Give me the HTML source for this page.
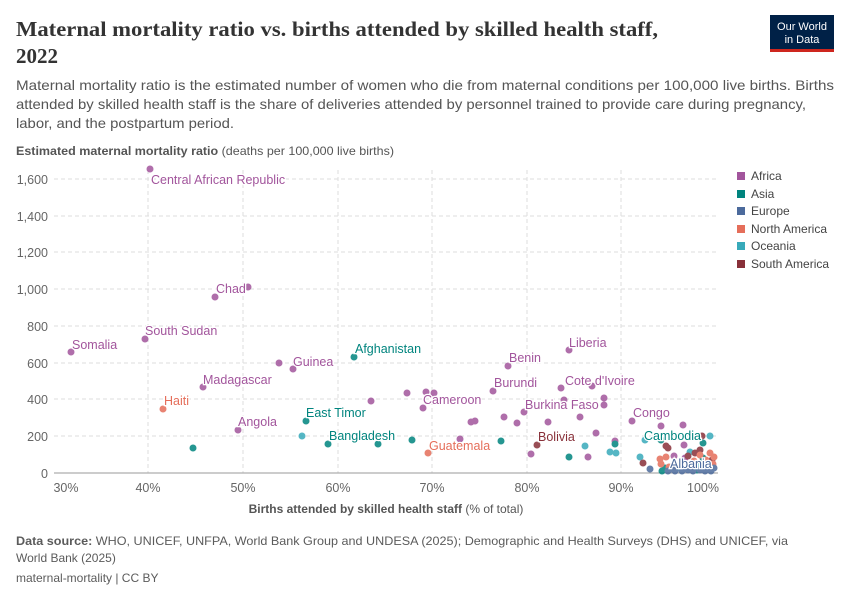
<!DOCTYPE html>
<html><head><meta charset="utf-8"><style>
body{margin:0;background:#fff;}
svg{display:block;font-family:"Liberation Sans",sans-serif;}
</style></head><body>
<svg width="850" height="600" viewBox="0 0 850 600" xmlns="http://www.w3.org/2000/svg">
<text x="16" y="36" font-family="Liberation Serif,serif" font-weight="bold" font-size="21" fill="#333" textLength="642" lengthAdjust="spacingAndGlyphs">Maternal mortality ratio vs. births attended by skilled health staff,</text>
<text x="16" y="63" font-family="Liberation Serif,serif" font-weight="bold" font-size="21" fill="#333">2022</text>
<rect x="770" y="15" width="64" height="36" fill="#002147"/>
<rect x="770" y="49" width="64" height="3" fill="#ce261e"/>
<text x="802" y="30" font-size="11" fill="#fff" text-anchor="middle">Our World</text>
<text x="802" y="43" font-size="11" fill="#fff" text-anchor="middle">in Data</text>
<g font-size="14" fill="#555">
<text x="16" y="90" textLength="818" lengthAdjust="spacingAndGlyphs">Maternal mortality ratio is the estimated number of women who die from maternal conditions per 100,000 live births. Births</text>
<text x="16" y="109" textLength="790" lengthAdjust="spacingAndGlyphs">attended by skilled health staff is the share of deliveries attended by personnel trained to provide care during pregnancy,</text>
<text x="16" y="128" textLength="218" lengthAdjust="spacingAndGlyphs">labor, and the postpartum period.</text>
</g>
<text x="16" y="155" font-size="12" fill="#555" textLength="378" lengthAdjust="spacingAndGlyphs"><tspan font-weight="bold">Estimated maternal mortality ratio</tspan> (deaths per 100,000 live births)</text>
<g stroke="#ddd" stroke-dasharray="4,3" stroke-width="1">
<line x1="54" x2="718" y1="179" y2="179"/><line x1="54" x2="718" y1="216" y2="216"/><line x1="54" x2="718" y1="252" y2="252"/><line x1="54" x2="718" y1="289" y2="289"/><line x1="54" x2="718" y1="326" y2="326"/><line x1="54" x2="718" y1="363" y2="363"/><line x1="54" x2="718" y1="399" y2="399"/><line x1="54" x2="718" y1="436" y2="436"/>
<line x1="148" x2="148" y1="170" y2="473"/><line x1="243" x2="243" y1="170" y2="473"/><line x1="338" x2="338" y1="170" y2="473"/><line x1="432" x2="432" y1="170" y2="473"/><line x1="527" x2="527" y1="170" y2="473"/><line x1="621" x2="621" y1="170" y2="473"/>
</g>
<line x1="54" x2="718" y1="473" y2="473" stroke="#999"/>
<g font-size="12.5" fill="#666" text-anchor="end">
<text x="48" y="184">1,600</text><text x="48" y="221">1,400</text><text x="48" y="257">1,200</text><text x="48" y="294">1,000</text><text x="48" y="331">800</text><text x="48" y="368">600</text><text x="48" y="404">400</text><text x="48" y="441">200</text><text x="48" y="478">0</text>
</g>
<g font-size="12.5" fill="#666" text-anchor="middle">
<text x="66" y="492">30%</text><text x="148" y="492">40%</text><text x="243" y="492">50%</text><text x="338" y="492">60%</text><text x="432" y="492">70%</text><text x="527" y="492">80%</text><text x="621" y="492">90%</text><text x="703" y="492">100%</text>
</g>
<text x="386" y="513" font-size="12" fill="#555" text-anchor="middle"><tspan font-weight="bold">Births attended by skilled health staff</tspan> (% of total)</text>
<g opacity="0.85">
<g fill="#a2559c">
<circle cx="150" cy="169" r="3.5"/><circle cx="215" cy="297" r="3.5"/><circle cx="248" cy="287" r="3.5"/><circle cx="71" cy="352" r="3.5"/><circle cx="145" cy="339" r="3.5"/><circle cx="203" cy="387" r="3.5"/><circle cx="238" cy="430" r="3.5"/><circle cx="293" cy="369" r="3.5"/><circle cx="279" cy="363" r="3.5"/><circle cx="423" cy="408" r="3.5"/><circle cx="508" cy="366" r="3.5"/><circle cx="493" cy="391" r="3.5"/><circle cx="569" cy="350" r="3.5"/><circle cx="592" cy="386" r="3.5"/><circle cx="524" cy="412" r="3.5"/><circle cx="632" cy="421" r="3.5"/><circle cx="407" cy="393" r="3.5"/><circle cx="371" cy="401" r="3.5"/><circle cx="426" cy="392" r="3.5"/><circle cx="434" cy="393" r="3.5"/><circle cx="471" cy="422" r="3.5"/><circle cx="475" cy="421" r="3.5"/><circle cx="460" cy="439" r="3.5"/><circle cx="504" cy="417" r="3.5"/><circle cx="517" cy="423" r="3.5"/><circle cx="548" cy="422" r="3.5"/><circle cx="531" cy="454" r="3.5"/><circle cx="564" cy="400" r="3.5"/><circle cx="580" cy="417" r="3.5"/><circle cx="604" cy="398" r="3.5"/><circle cx="604" cy="405" r="3.5"/><circle cx="596" cy="433" r="3.5"/><circle cx="588" cy="457" r="3.5"/><circle cx="615" cy="441" r="3.5"/><circle cx="661" cy="426" r="3.5"/><circle cx="683" cy="425" r="3.5"/><circle cx="684" cy="445" r="3.5"/><circle cx="561" cy="388" r="3.5"/><circle cx="685" cy="458" r="3.5"/><circle cx="674" cy="456" r="3.5"/>
</g>
<g fill="#00847e">
<circle cx="354" cy="357" r="3.5"/><circle cx="306" cy="421" r="3.5"/><circle cx="328" cy="444" r="3.5"/><circle cx="193" cy="448" r="3.5"/><circle cx="378" cy="444" r="3.5"/><circle cx="412" cy="440" r="3.5"/><circle cx="501" cy="441" r="3.5"/><circle cx="569" cy="457" r="3.5"/><circle cx="615" cy="444" r="3.5"/><circle cx="661" cy="440" r="3.5"/><circle cx="703" cy="443" r="3.5"/><circle cx="665" cy="468" r="3.5"/><circle cx="703" cy="458" r="3.5"/><circle cx="710" cy="470" r="3.5"/><circle cx="662" cy="471" r="3.5"/><circle cx="697" cy="470" r="3.5"/>
</g>
<g fill="#38aaba">
<circle cx="302" cy="436" r="3.5"/><circle cx="585" cy="446" r="3.5"/><circle cx="610" cy="452" r="3.5"/><circle cx="616" cy="453" r="3.5"/><circle cx="640" cy="457" r="3.5"/><circle cx="645" cy="440" r="3.5"/><circle cx="690" cy="452" r="3.5"/><circle cx="710" cy="436" r="3.5"/><circle cx="698" cy="465" r="3.5"/><circle cx="680" cy="468" r="3.5"/>
</g>
<g fill="#883039">
<circle cx="537" cy="445" r="3.5"/><circle cx="643" cy="463" r="3.5"/><circle cx="666" cy="446" r="3.5"/><circle cx="668" cy="448" r="3.5"/><circle cx="688" cy="456" r="3.5"/><circle cx="702" cy="436" r="3.5"/><circle cx="712" cy="460" r="3.5"/><circle cx="695" cy="453" r="3.5"/><circle cx="700" cy="450" r="3.5"/>
</g>
<g fill="#e56e5a">
<circle cx="163" cy="409" r="3.5"/><circle cx="428" cy="453" r="3.5"/><circle cx="660" cy="459" r="3.5"/><circle cx="661" cy="464" r="3.5"/><circle cx="666" cy="457" r="3.5"/><circle cx="669" cy="467" r="3.5"/><circle cx="700" cy="455" r="3.5"/><circle cx="706" cy="460" r="3.5"/><circle cx="710" cy="453" r="3.5"/><circle cx="713" cy="464" r="3.5"/><circle cx="708" cy="467" r="3.5"/><circle cx="694" cy="461" r="3.5"/><circle cx="704" cy="464" r="3.5"/><circle cx="714" cy="457" r="3.5"/>
</g>
<g fill="#4c6a9c">
<circle cx="650" cy="469" r="3.5"/><circle cx="668" cy="471" r="3.5"/><circle cx="675" cy="471" r="3.5"/><circle cx="682" cy="471" r="3.5"/><circle cx="688" cy="470" r="3.5"/><circle cx="693" cy="471" r="3.5"/><circle cx="700" cy="470" r="3.5"/><circle cx="705" cy="471" r="3.5"/><circle cx="711" cy="471" r="3.5"/><circle cx="714" cy="468" r="3.5"/><circle cx="690" cy="466" r="3.5"/><circle cx="672" cy="469" r="3.5"/><circle cx="708" cy="469" r="3.5"/>
</g>
</g>
<g font-size="12.5" stroke="#fff" stroke-width="2.5" paint-order="stroke">
<g fill="#a2559c">
<text x="151" y="184">Central African Republic</text><text x="216" y="293">Chad</text><text x="72" y="349">Somalia</text><text x="145" y="335">South Sudan</text><text x="203" y="384">Madagascar</text><text x="238" y="426">Angola</text><text x="293" y="366">Guinea</text><text x="423" y="404">Cameroon</text><text x="509" y="362">Benin</text><text x="494" y="387">Burundi</text><text x="569" y="347">Liberia</text><text x="565" y="385">Cote d'Ivoire</text><text x="525" y="409">Burkina Faso</text><text x="633" y="417">Congo</text>
</g>
<g fill="#00847e"><text x="355" y="353">Afghanistan</text><text x="306" y="417">East Timor</text><text x="329" y="440">Bangladesh</text><text x="644" y="440">Cambodia</text></g>
<text x="164" y="405" fill="#e56e5a">Haiti</text>
<text x="429" y="450" fill="#e56e5a">Guatemala</text>
<text x="538" y="441" fill="#883039">Bolivia</text>
<text x="670" y="468" fill="#4c6a9c">Albania</text>
</g>
<g font-size="12" fill="#444">
<rect x="737" y="172" width="8" height="8" fill="#a2559c"/><text x="751" y="180">Africa</text>
<rect x="737" y="190" width="8" height="8" fill="#00847e"/><text x="751" y="198">Asia</text>
<rect x="737" y="207" width="8" height="8" fill="#4c6a9c"/><text x="751" y="215">Europe</text>
<rect x="737" y="225" width="8" height="8" fill="#e56e5a"/><text x="751" y="233">North America</text>
<rect x="737" y="242" width="8" height="8" fill="#38aaba"/><text x="751" y="250">Oceania</text>
<rect x="737" y="260" width="8" height="8" fill="#883039"/><text x="751" y="268">South America</text>
</g>
<g font-size="12" fill="#5b5b5b">
<text x="16" y="545" textLength="772" lengthAdjust="spacingAndGlyphs"><tspan font-weight="bold">Data source:</tspan> WHO, UNICEF, UNFPA, World Bank Group and UNDESA (2025); Demographic and Health Surveys (DHS) and UNICEF, via</text>
<text x="16" y="562">World Bank (2025)</text>
<text x="16" y="582">maternal-mortality | CC BY</text>
</g>
</svg>
</body></html>
